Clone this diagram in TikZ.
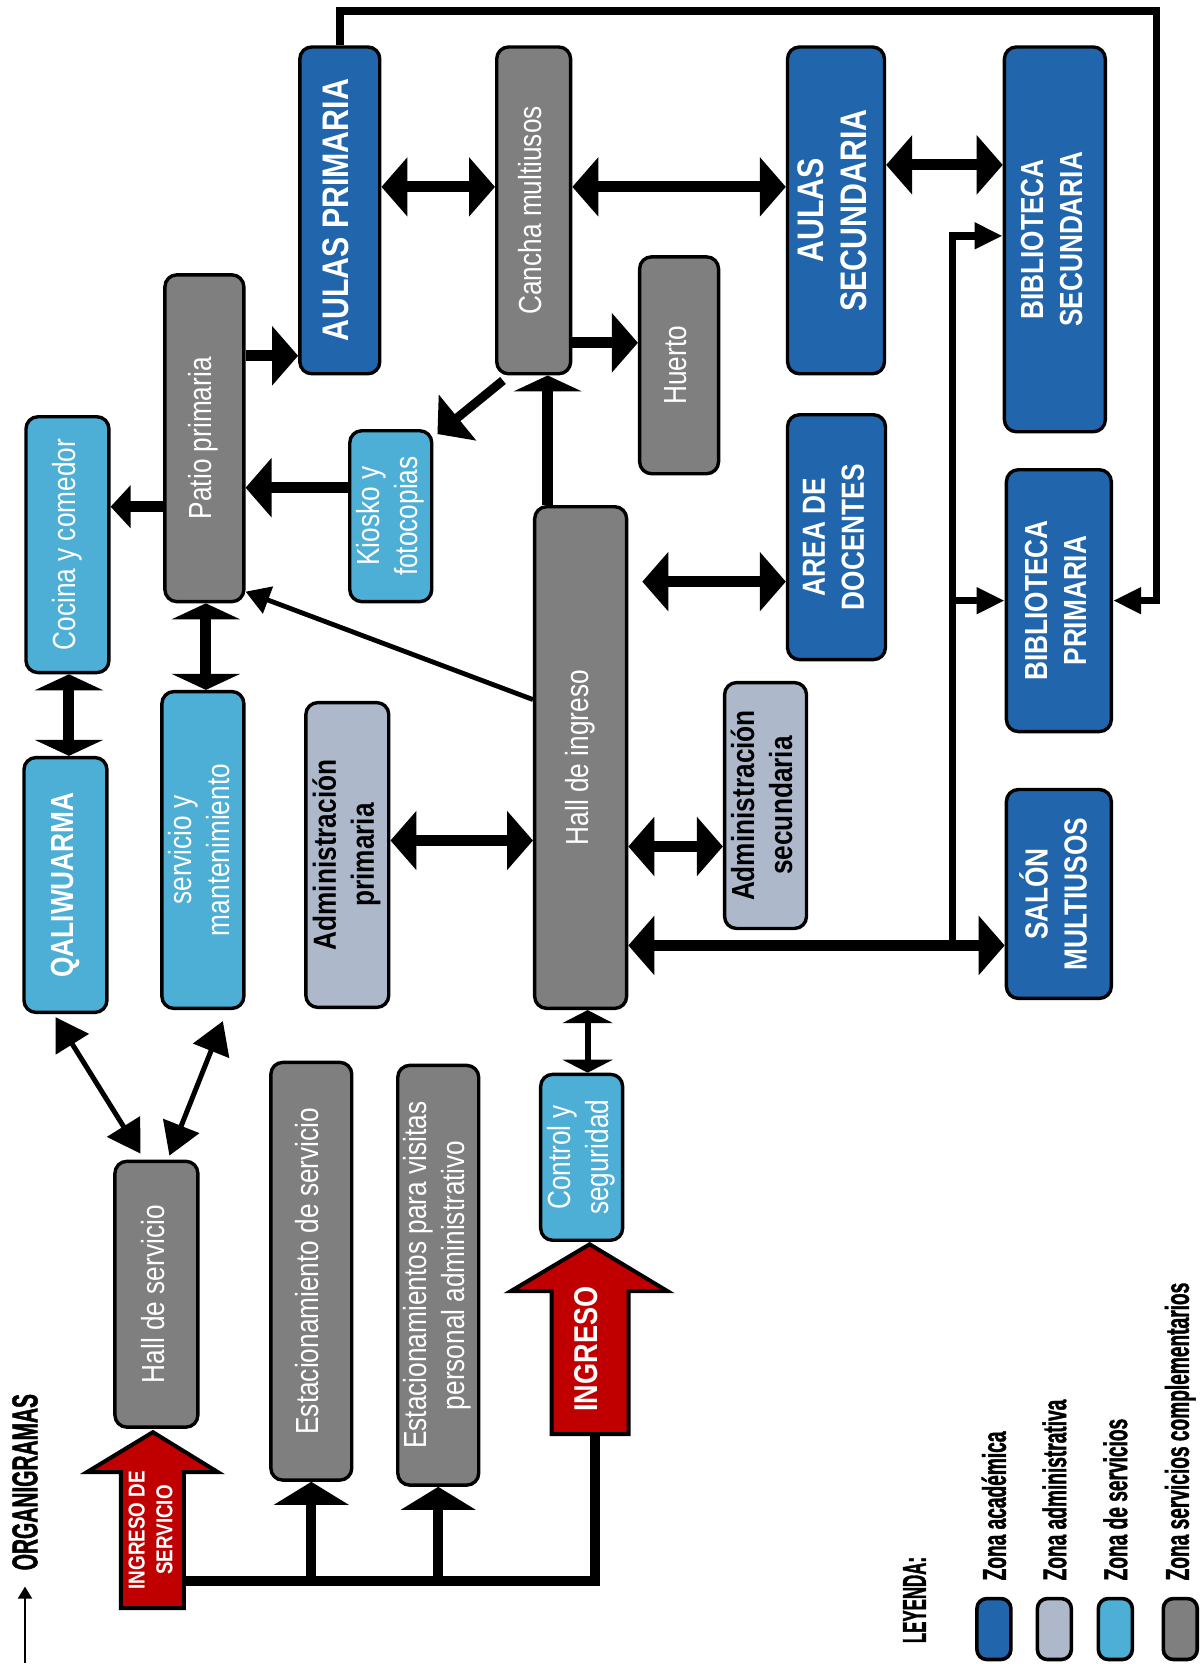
\documentclass[tikz,border=0pt]{standalone}
\usepackage{fontspec}
\usepackage{graphicx}
\usepackage[HTML]{xcolor}
\usetikzlibrary{positioning, calc, arrows.meta}

\newfontfamily\boxfont[FakeStretch=0.82]{Liberation Sans}
\newfontfamily\legfont[FakeStretch=0.58, FakeBold=1.2]{Liberation Sans}

\definecolor{acad}{HTML}{2166AC}
\definecolor{admin}{HTML}{ADB9CB}
\definecolor{serv}{HTML}{4DAFD6}
\definecolor{compl}{HTML}{7F7F7F}
\definecolor{ingr}{HTML}{C00000}

\newcommand{\vtext}[1]{\rotatebox{90}{\begin{tabular}{@{}c@{}}#1\end{tabular}}}

\begin{document}
\begin{tikzpicture}[x=0.5pt, y=-0.5pt,
  box/.style={draw=black, line width=1.7pt, rounded corners=6pt, inner sep=0pt, text=white,
    font=\boxfont\fontsize{16pt}{19pt}\selectfont},
  sz/.style 2 args={minimum width=#1pt, minimum height=#2pt},
  acadbox/.style={box, fill=acad, font=\boxfont\bfseries\fontsize{16pt}{19.5pt}\selectfont},
  adminbox/.style={box, fill=admin, text=black, font=\boxfont\bfseries\fontsize{16pt}{19pt}\selectfont},
  servbox/.style={box, fill=serv},
  complbox/.style={box, fill=compl},
  bigtext/.style={font=\boxfont\bfseries\fontsize{18.5pt}{21.5pt}\selectfont},
  ingarrow/.style={fill=ingr, draw=black, line width=2pt, line join=miter},
  ingtext/.style={text=white, inner sep=0pt},
  legbox/.style={draw=black, line width=1.8pt, rounded corners=5pt, minimum width=17pt, minimum height=30.5pt, inner sep=0pt},
  legtext/.style={inner sep=0pt, font=\legfont\bfseries\fontsize{16.5pt}{19pt}\selectfont},
  Big/.tip={Triangle[length=13pt, width=29pt]},
  Flat/.tip={Triangle[length=8pt, width=34pt]},
  Med/.tip={Triangle[length=10pt, width=21pt]},
  Diag/.tip={Triangle[length=16pt, width=19pt]},
  Slim/.tip={Triangle[length=12pt, width=14pt]},
  Small/.tip={Triangle[length=14pt, width=12.5pt]},
  Foot/.tip={Triangle[length=11.5pt, width=37pt]},
  Gate/.tip={Triangle[length=6.5pt, width=25pt]},
  conn/.style={draw=black, line width=5.5pt},
  ringline/.style={draw=black, line width=3.8pt, line join=miter}
]
\path[fill=white] (0,0) rectangle (1202,1664);

% --- zona academica ---
\node[acadbox, bigtext, sz={40}{163.5}] (aulasP) at (340,210.5) {\vtext{AULAS PRIMARIA}};
\node[acadbox, bigtext, sz={48.5}{163.5}] (aulasS) at (836.5,210.5) {\vtext{AULAS\\SECUNDARIA}};
\node[acadbox, sz={50.5}{192.5}] (biblioS) at (1055.5,239.5) {\vtext{BIBLIOTECA\\SECUNDARIA}};
\node[acadbox, sz={49}{122.5}] (docentes) at (837,537.5) {\vtext{AREA DE\\DOCENTES}};
\node[acadbox, sz={52.5}{131}] (biblioP) at (1059.5,601) {\vtext{BIBLIOTECA\\PRIMARIA}};
\node[acadbox, sz={52.5}{104.5}] (salon) at (1059.5,894.5) {\vtext{SALÓN\\MULTIUSOS}};

% --- zona administrativa ---
\node[adminbox, sz={41}{123}] (admS) at (766,806) {\vtext{Administración\\secundaria}};
\node[adminbox, sz={41.5}{152.5}] (admP) at (347.5,855.5) {\vtext{Administración\\primaria}};

% --- zona de servicios ---
\node[servbox, sz={41}{85.5}] (kiosko) at (391,516.5) {\vtext{Kiosko y\\fotocopias}};
\node[servbox, sz={41.5}{128}] (cocina) at (67.5,545) {\vtext{Cocina y comedor}};
\node[servbox, sz={41.5}{127.5}, font=\boxfont\bfseries\fontsize{16pt}{19pt}\selectfont] (qali) at (65.5,885.5) {\vtext{QALIWUARMA}};
\node[servbox, sz={41}{158.5}] (servicio) at (203,850.5) {\vtext{servicio y\\mantenimiento}};
\node[servbox, sz={41}{83}] (control) at (582,1158) {\vtext{Control y\\seguridad}};

% --- zona servicios complementarios ---
\node[complbox, sz={37}{163.5}] (cancha) at (534,210.5) {\vtext{Cancha multiusos}};
\node[complbox, sz={39.5}{108.5}] (huerto) at (679.5,365.5) {\vtext{Huerto}};
\node[complbox, sz={39.5}{163.5}] (patio) at (204.5,438.5) {\vtext{Patio primaria}};
\node[complbox, sz={46}{251}] (hallI) at (581,758) {\vtext{Hall de ingreso}};
\node[complbox, sz={41.5}{133}] (hallS) at (156.5,1295) {\vtext{Hall de servicio}};
\node[complbox, sz={40.5}{209}] (estS) at (311.5,1272) {\vtext{Estacionamiento de servicio}};
\node[complbox, sz={40.5}{210}] (estV) at (438.5,1276) {\vtext{Estacionamientos para visitas\\personal administrativo}};

% --- ingresos ---
\draw[ingarrow] (121,1609) -- (121,1473) -- (87,1473) -- (153,1433) -- (218,1473) -- (184,1473) -- (184,1609) -- cycle;
\node[ingtext, font=\boxfont\bfseries\fontsize{11.5pt}{14pt}\selectfont] (ingS) at (153,1531) {\vtext{INGRESO DE\\SERVICIO}};
\draw[ingarrow] (552,1435) -- (552,1292) -- (511,1292) -- (590,1245) -- (668,1292) -- (629,1292) -- (629,1435) -- cycle;
\node[ingtext, font=\boxfont\bfseries\fontsize{16.5pt}{19pt}\selectfont] (ing) at (590,1350) {\vtext{INGRESO}};

% --- relaciones ---
\draw[conn, Big-Big] (aulasP.east |- 0,187) -- (cancha.west |- 0,187);
\draw[conn, Big-Big] (cancha.east |- 0,187) -- (aulasS.west |- 0,187);
\draw[conn, Big-Big] (aulasS.east |- 0,165) -- (biblioS.west |- 0,165);
\draw[conn, -Big] (cancha.east |- 0,343) -- (huerto.west |- 0,343);
\draw[conn, -Big] (patio.east |- 0,356) -- (aulasP.west |- 0,356);
\draw[conn, line width=4.5pt, -Big] ($(cancha.south west)+(8,5)$) -- ($(kiosko.north east)+(4,5)$);
\draw[conn, -Flat] (hallI.north -| 548,0) -- (cancha.south -| 548,0);
\draw[conn, -Big] (kiosko.west |- 0,488) -- (patio.east |- 0,488);
\draw[conn, -Med] (patio.west |- 0,507) -- (cocina.east |- 0,507);
\draw[conn, Flat-Flat] (patio.south -| 206,0) -- (servicio.north -| 206,0);
\draw[conn, Flat-Flat] (cocina.south -| 69,0) -- (qali.north -| 69,0);
\draw[conn, line width=2.4pt, -Slim] (hallI.west |- 0,700) -- (patio.east |- 0,592);
\draw[conn, Big-Big] (admP.east |- 0,841) -- (hallI.west |- 0,841);
\draw[conn, Big-Big] ($(hallI.east |- 0,582)+(14,0)$) -- (docentes.west |- 0,582);
\draw[conn, Big-Big] (hallI.east |- 0,847) -- (admS.west |- 0,847);
\draw[conn, Big-Big] (hallI.east |- 0,946) -- (salon.west |- 0,946);
\coordinate (split) at (953,946);
\draw[conn, line width=3.8pt, -Small] (split) |- (biblioS.west |- 0,236);
\draw[conn, line width=3.8pt, -Small] (split |- biblioP.west) -- (biblioP.west);
\coordinate (corner) at (1157,11);
\draw[ringline, -Small] (aulasP.north) |- (corner) |- (biblioP.east);
\draw[conn, line width=3pt, Gate-Gate] (hallI.south -| 588,0) -- (control.north -| 588,0);
\draw[conn, line width=2.5pt, Diag-Diag] ($(qali.south)+(-10,3)$) -- ($(hallS.north)+(-16,-6)$);
\draw[conn, line width=2.5pt, Diag-Diag] ($(servicio.south)+(20,11)$) -- ($(hallS.north)+(13,-4)$);

% --- accesos ---
\coordinate (ingfoot) at (595,1435);
\coordinate (servfoot) at (184,1582);
\draw[conn, line width=5pt] (ingfoot) |- (servfoot);
\draw[conn, line width=5pt, -Foot] (estS.south |- servfoot) -- (estS.south);
\draw[conn, line width=5pt, -Foot] (estV.south |- servfoot) -- (estV.south);

% --- titulo y leyenda ---
\node[legtext, font=\legfont\bfseries\fontsize{18pt}{21pt}\selectfont] (org) at (25,1483) {\rotatebox{90}{ORGANIGRAMAS}};
\coordinate (orgfoot) at (25,1664);
\draw[line width=1pt, -{Triangle[length=6pt, width=7pt]}] (orgfoot) -- ([yshift=-8pt]org.south);

\node[legtext] (leyenda) at (915,1601) {\rotatebox{90}{\scalebox{0.88}[1]{LEYENDA:}}};
\node[legbox, fill=acad] (legA) at (994.5,1630) {};
\node[legbox, fill=admin] (legB) at (1055,1630) {};
\node[legbox, fill=serv] (legC) at (1116,1630) {};
\node[legbox, fill=compl] (legD) at (1181,1630) {};
\node[legtext, above=8pt of legA] (legAt) {\rotatebox{90}{Zona académica}};
\node[legtext, above=8pt of legB] (legBt) {\rotatebox{90}{Zona administrativa}};
\node[legtext, above=8pt of legC] (legCt) {\rotatebox{90}{Zona de servicios}};
\node[legtext, above=8pt of legD] (legDt) {\rotatebox{90}{Zona servicios complementarios}};
\end{tikzpicture}
\end{document}
